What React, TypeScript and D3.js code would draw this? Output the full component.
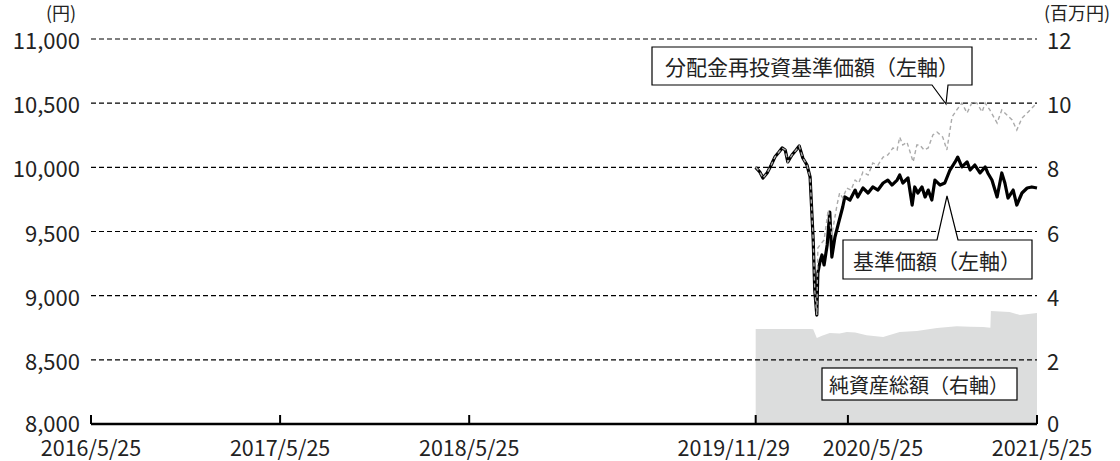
import React from "react";
import * as d3 from "d3";

// ---- data ----
const navDates = [
  "2019-11-29","2019-12-07","2019-12-13","2019-12-21","2019-12-29","2020-01-05","2020-01-13","2020-01-19","2020-01-25","2020-01-30",
  "2020-02-07","2020-02-15","2020-02-21","2020-02-28","2020-03-07","2020-03-13","2020-03-19","2020-03-22","2020-03-26","2020-03-28",
  "2020-04-01","2020-04-05","2020-04-09","2020-04-15","2020-04-20","2020-04-24","2020-04-30","2020-05-06","2020-05-15","2020-05-19",
  "2020-05-29","2020-06-08","2020-06-13","2020-06-23","2020-07-03","2020-07-12","2020-07-22","2020-08-01","2020-08-10","2020-08-18",
  "2020-08-28","2020-09-02","2020-09-08","2020-09-18","2020-09-26","2020-10-01","2020-10-07","2020-10-15","2020-10-21","2020-10-27",
  "2020-11-03","2020-11-09","2020-11-19","2020-11-28","2020-12-08","2020-12-18","2020-12-23","2020-12-31","2021-01-10","2021-01-16",
  "2021-01-25","2021-02-04","2021-02-14","2021-02-19","2021-02-27","2021-03-09","2021-03-18","2021-03-24","2021-03-30","2021-04-09",
  "2021-04-16","2021-04-26","2021-05-06","2021-05-15","2021-05-25"
];
const navValues = [
  10000, 9964, 9917, 9956, 10018, 10080, 10119, 10151, 10135, 10042,
  10096, 10135, 10166, 10073, 10018, 9925, 9434, 9044, 8849, 9177,
  9262, 9317, 9239, 9395, 9652, 9301, 9457, 9551, 9691, 9769,
  9745, 9823, 9769, 9839, 9800, 9847, 9823, 9878, 9901, 9862,
  9901, 9940, 9878, 9917, 9706, 9847, 9800, 9847, 9769, 9823,
  9745, 9901, 9862, 9878, 9979, 10042, 10080, 10003, 10042, 9979,
  10018, 9956, 10003, 9956, 9901, 9769, 9956, 9878, 9761, 9823,
  9706, 9800, 9839, 9847, 9839
];

const reinvDates = [
  "2019-11-29","2019-12-07","2019-12-13","2019-12-21","2019-12-29","2020-01-05","2020-01-13","2020-01-19","2020-01-25","2020-01-30",
  "2020-02-07","2020-02-15","2020-02-21","2020-02-28","2020-03-07","2020-03-13","2020-03-19","2020-03-22","2020-03-26","2020-03-28",
  "2020-04-01","2020-04-09","2020-04-17","2020-04-24","2020-05-04","2020-05-09","2020-05-15","2020-05-23","2020-05-31","2020-06-08",
  "2020-06-15","2020-06-23","2020-07-03","2020-07-12","2020-07-22","2020-08-01","2020-08-10","2020-08-20","2020-08-28","2020-09-02",
  "2020-09-08","2020-09-16","2020-09-28","2020-10-05","2020-10-11","2020-10-19","2020-10-27","2020-11-05","2020-11-13","2020-11-24",
  "2020-12-02","2020-12-12","2020-12-21","2020-12-31","2021-01-10","2021-01-20","2021-01-29","2021-02-08","2021-02-14","2021-02-23",
  "2021-03-09","2021-03-18","2021-03-28","2021-04-07","2021-04-16","2021-04-26","2021-05-08","2021-05-21","2021-05-25"
];
const reinvValues = [
  10000, 9964, 9917, 9956, 10018, 10080, 10119, 10151, 10135, 10042,
  10096, 10135, 10166, 10073, 10018, 9925, 9434, 9044, 8849, 9371,
  9395, 9434, 9668, 9473, 9707, 9800, 9761, 9839, 9823, 9901,
  9878, 9964, 9940, 10034, 10018, 10080, 10096, 10151, 10135, 10236,
  10174, 10197, 10042, 10174, 10174, 10135, 10151, 10252, 10275, 10236,
  10135, 10392, 10447, 10501, 10423, 10509, 10501, 10431, 10501, 10447,
  10345, 10447, 10408, 10369, 10291, 10384, 10431, 10486, 10493
];

const assetDates = [
  "2019-11-29","2020-03-13","2020-03-19","2020-03-26","2020-04-05","2020-04-20","2020-05-09","2020-05-23","2020-06-08","2020-06-30",
  "2020-08-01","2020-09-02","2020-10-05","2020-11-13","2020-12-21","2021-01-16","2021-02-10","2021-02-24","2021-02-25","2021-04-02",
  "2021-04-22","2021-05-25"
];
const assetValues = [
  2.96, 2.96, 2.95, 2.68, 2.75, 2.84, 2.82, 2.87, 2.85, 2.77,
  2.71, 2.87, 2.90, 2.99, 3.05, 3.03, 3.02, 3.00, 3.52, 3.49,
  3.40, 3.46
];

const xTickDates = ["2016-05-25", "2017-05-25", "2018-05-25", "2019-11-29", "2020-05-25", "2021-05-25"];
const xTickLabels = ["2016/5/25", "2017/5/25", "2018/5/25", "2019/11/29", "2020/5/25", "2021/5/25"];
const leftTicks = [8000, 8500, 9000, 9500, 10000, 10500, 11000];
const rightTicks = [0, 2, 4, 6, 8, 10, 12];

// label nudges (layout only) to avoid the crowded right-hand ticks
const xLabelShift = [0, 0, 0, -22, 25, 5];

const FONT = "'Noto Sans CJK JP', 'Noto Sans', sans-serif";

export default function App() {
  const W = 1120, H = 461;
  const parse = d3.timeParse("%Y-%m-%d");
  const x = d3.scaleTime()
    .domain([parse("2016-05-25")!, parse("2021-05-25")!])
    .range([91, 1037]);
  const yL = d3.scaleLinear().domain([8000, 11000]).range([424, 39]);
  const yR = d3.scaleLinear().domain([0, 12]).range([424, 39]);

  const nav = navDates.map((d, i) => ({ d: parse(d)!, v: navValues[i] }));
  const reinv = reinvDates.map((d, i) => ({ d: parse(d)!, v: reinvValues[i] }));
  const assets = assetDates.map((d, i) => ({ d: parse(d)!, v: assetValues[i] }));

  const lineL = d3.line<{ d: Date; v: number }>().x(p => x(p.d)).y(p => yL(p.v));
  const area = d3.area<{ d: Date; v: number }>().x(p => x(p.d)).y0(yR(0)).y1(p => yR(p.v));

  const fmt = d3.format(",");

  return (
    <svg width={W} height={H} style={{ display: "block", position: "absolute", left: 0, top: 0, background: "#fff" }}
      fontFamily={FONT}>
      <rect width={W} height={H} fill="#fff" />
      {/* net assets area */}
      <path d={area(assets) || ""} fill="#dcdddd" />
      {/* gridlines */}
      {leftTicks.filter(t => t !== 8000).map(t => (
        <line key={t} x1={91} x2={1037} y1={yL(t)} y2={yL(t)} stroke="#000" strokeWidth={1.2} strokeDasharray="5,3" />
      ))}
      {/* left labels */}
      {leftTicks.map(t => (
        <text key={t} x={80} y={yL(t) - (t === 8000 ? 2 : 0)} fontSize={22} textAnchor="end" dominantBaseline="central" fill="#222">{fmt(t)}</text>
      ))}
      {/* right labels */}
      {rightTicks.map(t => (
        <text key={t} x={1047} y={yR(t) - (t === 0 ? 2 : 0)} fontSize={22} textAnchor="start" dominantBaseline="central" fill="#222">{t}</text>
      ))}
      <text x={61} y={12} fontSize={18} textAnchor="middle" dominantBaseline="central" fill="#222">(円)</text>
      <text x={1077} y={12} fontSize={18} textAnchor="middle" dominantBaseline="central" fill="#222">(百万円)</text>
      {/* x axis */}
      <line x1={x(parse("2016-05-25")!)} x2={x(parse("2021-05-25")!)} y1={424} y2={424} stroke="#000" strokeWidth={2.5} />
      {xTickDates.map((t, i) => (
        <g key={t}>
          <line x1={x(parse(t)!)} x2={x(parse(t)!)} y1={424} y2={415} stroke="#000" strokeWidth={2} />
          <text x={x(parse(t)!) + xLabelShift[i]} y={446} fontSize={21.5} textAnchor="middle" dominantBaseline="central" fill="#222">
            {xTickLabels[i]}
          </text>
        </g>
      ))}
      {/* lines */}
      <path d={lineL(nav) || ""} fill="none" stroke="#000" strokeWidth={3.2} strokeLinejoin="round" />
      <path d={lineL(reinv) || ""} fill="none" stroke="#ababab" strokeWidth={1.4} strokeDasharray="4,3" />
      {/* callouts */}
      <path d="M652,47 H972 V85 H948 L946,104 L932,85 H652 Z" fill="#fff" stroke="#000" strokeWidth={1.2} />
      <text x={812} y={66} fontSize={21} textAnchor="middle" dominantBaseline="central" fill="#222">分配金再投資基準価額（左軸）</text>
      <path d="M843,240 H937 L947,196 L958,240 H1032 V279 H843 Z" fill="#fff" stroke="#000" strokeWidth={1.2} />
      <text x={937} y={260} fontSize={21} textAnchor="middle" dominantBaseline="central" fill="#222">基準価額（左軸）</text>
      <rect x={822} y={368} width={195} height={32} fill="#fff" stroke="#000" strokeWidth={1.2} />
      <text x={919} y={384} fontSize={20} textAnchor="middle" dominantBaseline="central" fill="#222">純資産総額（右軸）</text>
    </svg>
  );
}
